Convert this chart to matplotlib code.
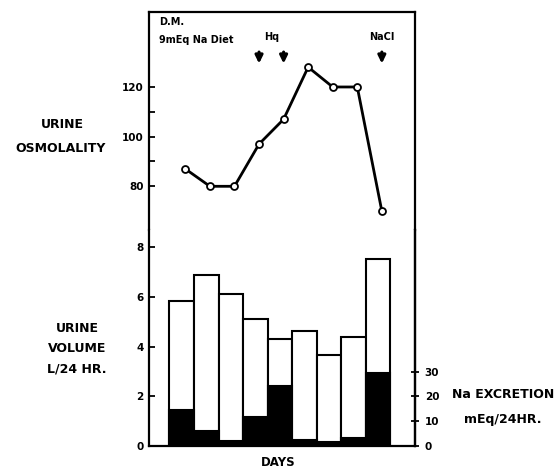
import matplotlib
matplotlib.use("Agg")
import matplotlib.pyplot as plt
import numpy as np

# ---- data ----
days = [1, 2, 3, 4, 5, 6, 7, 8, 9]
osmolality = [87, 80, 80, 97, 107, 128, 120, 120, 70]
urine_volume = [5.85, 6.88, 6.13, 5.13, 4.31, 4.65, 3.65, 4.39, 7.54]
na_excretion = [14.4, 6.1, 2.2, 11.6, 24.2, 2.4, 1.6, 3.1, 29.6]
osm_ticks = [80, 90, 100, 110, 120]
osm_labels = ["80", "", "100", "", "120"]
vol_ticks = [0, 2, 4, 6, 8]
na_ticks = [0, 10, 20, 30]
hq_days = [4, 5]
nacl_days = [9]

W, H = 555, 468
fig = plt.figure(figsize=(W / 100, H / 100), dpi=100)

def fx(px):
    return px / W

def fy(py):
    return 1 - py / H

left, right, top, split, bottom = 149, 415, 12, 230, 446
ax_top = fig.add_axes([fx(left), fy(split), fx(right - left), fy(top) - fy(split)])
ax_bot = fig.add_axes([fx(left), fy(bottom), fx(right - left), fy(split) - fy(bottom)])

xlim = (-0.33, 10.5)
lw = 1.6
font = dict(family="DejaVu Sans", weight="bold")

# upper: osmolality
ax_top.plot(np.array(days) + 0.15, osmolality, color="black", lw=2.0,
            marker="o", ms=5, mfc="white", mec="black", mew=1.3, zorder=3)
ax_top.set_xlim(*xlim)
ax_top.set_ylim(62.4, 150.2)
ax_top.set_yticks(osm_ticks)
ax_top.set_yticklabels(osm_labels, **font, fontsize=7.5)
ax_top.set_xticks([])
ax_top.spines["bottom"].set_visible(False)
for s in ["top", "left", "right"]:
    ax_top.spines[s].set_linewidth(lw)
ax_top.tick_params(axis="y", direction="in", length=4, width=1.3, pad=4)

# annotations
ax_top.text(0.07, 146, "D.M.", ha="left", va="center", fontsize=7, **font)
ax_top.text(0.07, 139, "9mEq Na Diet", ha="left", va="center", fontsize=7, **font)
ax_top.text(np.mean(hq_days) + 0.15, 140, "Hq", ha="center", va="center", fontsize=7, **font)
ax_top.text(nacl_days[0] + 0.15, 140, "NaCl", ha="center", va="center", fontsize=7, **font)
for d in hq_days + nacl_days:
    ax_top.annotate("", xy=(d + 0.15, 128.3), xytext=(d + 0.15, 135.2),
                    arrowprops=dict(arrowstyle="-|>,head_length=0.45,head_width=0.22",
                                    color="black", lw=2.2))

# lower: urine volume bars + Na excretion
na_in_vol = [v / 10.0 for v in na_excretion]
ax_bot.bar(days, urine_volume, width=1.0, color="white", edgecolor="black", lw=1.5, zorder=2)
ax_bot.bar(days, na_in_vol, width=1.0, color="black", edgecolor="black", lw=1.5, zorder=3)
ax_bot.set_xlim(*xlim)
ax_bot.set_ylim(0, 8.70)
ax_bot.set_yticks(vol_ticks)
ax_bot.set_yticklabels([str(t) for t in vol_ticks], **font, fontsize=7.5)
ax_bot.set_xticks([])
ax_bot.spines["top"].set_visible(False)
for s in ["bottom", "left", "right"]:
    ax_bot.spines[s].set_linewidth(lw)
ax_bot.tick_params(axis="y", direction="in", length=4, width=1.3, pad=4)

ax_na = ax_bot.twinx()
ax_na.set_ylim(0, 87.0)
ax_na.set_yticks(na_ticks)
ax_na.set_yticklabels([str(t) for t in na_ticks], **font, fontsize=7.5)
for s in ["top", "left", "bottom"]:
    ax_na.spines[s].set_visible(False)
ax_na.spines["right"].set_linewidth(lw)
ax_na.tick_params(axis="y", direction="inout", length=6, width=1.3, pad=4)

# side labels
fs = 9
fig.text(fx(62), fy(125), "URINE", ha="center", va="center", fontsize=fs, **font)
fig.text(fx(61), fy(148), "OSMOLALITY", ha="center", va="center", fontsize=fs, **font)
fig.text(fx(77), fy(328), "URINE", ha="center", va="center", fontsize=fs, **font)
fig.text(fx(77), fy(349), "VOLUME", ha="center", va="center", fontsize=fs, **font)
fig.text(fx(77), fy(369), "L/24 HR.", ha="center", va="center", fontsize=fs, **font)
fig.text(fx(503), fy(394), "Na EXCRETION", ha="center", va="center", fontsize=fs, **font)
fig.text(fx(503), fy(419), "mEq/24HR.", ha="center", va="center", fontsize=fs, **font)
fig.text(fx(278), fy(462), "DAYS", ha="center", va="center", fontsize=8.5, **font)

fig.savefig("out.png", dpi=100)
